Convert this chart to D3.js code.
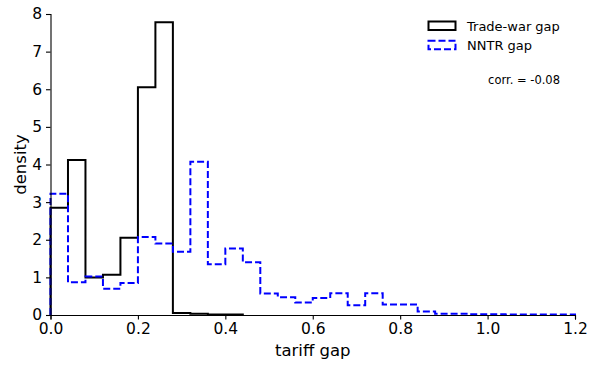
<!DOCTYPE html>
<html>
<head>
<meta charset="utf-8">
<script src="https://cdn.jsdelivr.net/npm/d3@7"></script>
<style>
  body { margin: 0; background: #fff; }
  svg text { font-family: "DejaVu Sans", sans-serif; fill: #000; }
</style>
</head>
<body>
<svg id="chart" width="589" height="366"></svg>
<script>
// bin edges: 0.00 .. 1.20 in steps of 0.04
const binEdges = d3.range(0, 31).map(i => +(i * 0.04).toFixed(2));

// density per bin
const tradeWar = [2.85, 4.12, 1.00, 1.07, 2.05, 6.05, 7.78, 0.05, 0.03, 0.01, 0.01];
const nntr = [3.22, 0.87, 1.02, 0.70, 0.85, 2.07, 1.90, 1.68, 4.07, 1.35,
              1.77, 1.40, 0.57, 0.47, 0.33, 0.45, 0.58, 0.26, 0.58, 0.28,
              0.28, 0.09, 0.03, 0.03, 0.02, 0.02, 0.01, 0.01, 0.01, 0.01];

const xTicks = [0, 0.2, 0.4, 0.6, 0.8, 1.0, 1.2];
const yTicks = [0, 1, 2, 3, 4, 5, 6, 7, 8];
const legendLabels = ["Trade-war gap", "NNTR gap"];
const corrText = "corr. = -0.08";

const svg = d3.select("#chart");
const margin = {left: 50.5, right: 14, top: 14, bottom: 51};
const W = 589, H = 366;

const x = d3.scaleLinear().domain([0, 1.2]).range([margin.left, W - margin.right]);
const y = d3.scaleLinear().domain([0, 8]).range([H - margin.bottom, margin.top]);

// step outline like matplotlib histtype='step'
function stepPoints(vals) {
    let pts = [[binEdges[0], 0]];
    vals.forEach((v, i) => {
        pts.push([binEdges[i], v]);
        pts.push([binEdges[i + 1], v]);
    });
    pts.push([binEdges[vals.length], 0]);
    return pts;
}

const line = d3.line().x(d => x(d[0])).y(d => y(d[1]));

svg.append("path")
    .attr("d", line(stepPoints(tradeWar)))
    .attr("fill", "none")
    .attr("stroke", "#000")
    .attr("stroke-width", 2)
    .attr("stroke-linejoin", "miter");

svg.append("path")
    .attr("d", line(stepPoints(nntr)))
    .attr("fill", "none")
    .attr("stroke", "#0000ff")
    .attr("stroke-width", 2)
    .attr("stroke-dasharray", "7,3");

// axes
const xAxis = svg.append("g")
    .attr("transform", `translate(0,${y(0)})`)
    .call(d3.axisBottom(x).tickValues(xTicks).tickFormat(d3.format(".1f")).tickSizeOuter(0).tickSize(4.5));
const yAxis = svg.append("g")
    .attr("transform", `translate(${x(0)},0)`)
    .call(d3.axisLeft(y).tickValues(yTicks).tickFormat(d3.format("d")).tickSizeOuter(0).tickSize(4.5));

[xAxis, yAxis].forEach(g => {
    g.select(".domain").attr("stroke", "#000").attr("stroke-width", 1.1);
    g.selectAll(".tick line").attr("stroke", "#000").attr("stroke-width", 1.1);
    g.selectAll(".tick text").style("font-size", "15.5px").attr("fill", "#000");
});
xAxis.selectAll(".tick text").attr("y", 8);
yAxis.selectAll(".tick text").attr("x", -8.5);

svg.append("text")
    .attr("x", x(0.6)).attr("y", 356)
    .attr("text-anchor", "middle")
    .style("font-size", "16.5px")
    .text("tariff gap");

svg.append("text")
    .attr("transform", `translate(26,${y(4)}) rotate(-90)`)
    .attr("text-anchor", "middle")
    .style("font-size", "16.5px")
    .text("density");

// legend
const legend = svg.append("g");
legendLabels.forEach((lab, i) => {
    const ly = 21.5 + i * 19.2;
    legend.append("rect")
        .attr("x", 428.5).attr("y", ly).attr("width", 27).attr("height", 8.5)
        .attr("fill", "none")
        .attr("stroke", i === 0 ? "#000" : "#0000ff")
        .attr("stroke-width", 2)
        .attr("stroke-dasharray", i === 0 ? null : "7,3");
    legend.append("text")
        .attr("x", 467).attr("y", ly + 9)
        .style("font-size", "13px")
        .text(lab);
});

svg.append("text")
    .attr("x", 560).attr("y", 84)
    .attr("text-anchor", "end")
    .style("font-size", "11.5px")
    .text(corrText);
</script>
</body>
</html>
